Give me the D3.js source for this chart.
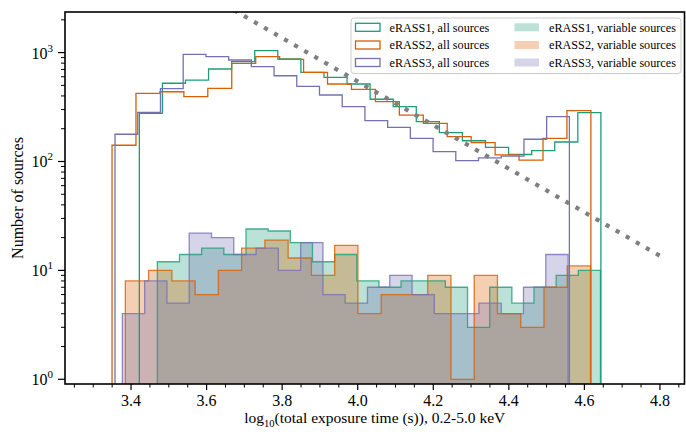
<!DOCTYPE html>
<html><head><meta charset="utf-8">
<script src="https://cdn.jsdelivr.net/npm/d3@7"></script>
<style>
body{margin:0;background:#fff}
svg{display:block}
text{font-family:"Liberation Serif","Times New Roman",serif;fill:#000}
</style>
</head><body>
<svg id="chart" width="686" height="432"></svg>
<script>
// ---------------- DATA ----------------
const seriesNames = ["eRASS1", "eRASS2", "eRASS3"];
const seriesColors = ["#1b9e77", "#d95f02", "#7570b3"];

// all sources: [min, max] of the 20 equal-width bins, and counts
const allRange1 = [3.4220, 4.6437];
const allRange2 = [3.3497, 4.6172];
const allRange3 = [3.3576, 4.5603];
const allCounts1 = [277, 523, 560, 707, 825, 1041, 874, 659, 593, 515, 373, 319, 232, 184, 155, 135, 116, 126, 151, 281];
const allCounts2 = [141, 423, 437, 394, 470, 798, 917, 868, 659, 515, 460, 354, 267, 224, 169, 149, 115, 103, 163, 293];
const allCounts3 = [178, 283, 466, 965, 917, 855, 743, 613, 490, 408, 319, 237, 206, 163, 123, 102, 108, 112, 160, 258];

// variable sources
const varRange1 = [3.4697, 4.6426];
const varRange2 = [3.3849, 4.6162];
const varRange3 = [3.3770, 4.5568];
const varCounts1 = [12, 14, 16, 14, 24, 23, 18, 12, 14, 8, 7, 8, 8, 7, 3, 7, 5, 7, 9, 10];
const varCounts2 = [8, 10, 8, 6, 10, 16, 19, 13, 9, 17, 4, 6, 6, 9, 1, 9, 4, 3, 7, 11];
const varCounts3 = [4, 8, 5, 22, 20, 14, 16, 10, 18, 6, 5, 7, 9, 6, 4, 4, 5, 4, 7, 14];

// dotted reference line (log10 t, N)
const refLineX = [3.3, 4.8];
const refLineY = [13650, 13.6];

const xTicks = [3.4, 3.6, 3.8, 4.0, 4.2, 4.4, 4.6, 4.8];
const yTickExps = [0, 1, 2, 3];
const xLabel = "total exposure time (s)), 0.2-5.0 keV";
const yLabel = "Number of sources";

// ---------------- LAYOUT ----------------
const L = 65, R = 684.5, T = 12, B = 384;
const svg = d3.select("#chart");
const x = d3.scaleLinear().domain([3.2252, 4.865]).range([L, R]);
const y = d3.scaleLog().domain([0.905, 2360]).range([B, T]);

svg.append("defs").append("clipPath").attr("id", "clip")
  .append("rect").attr("x", L).attr("y", T).attr("width", R - L).attr("height", B - T);
const plot = svg.append("g").attr("clip-path", "url(#clip)");

function edges(range, n) {
  const w = (range[1] - range[0]) / n;
  return d3.range(n + 1).map(i => range[0] + i * w);
}
function stepPoints(range, counts) {
  const e = edges(range, counts.length);
  const low = 0.5;
  const pts = [[e[0], low]];
  counts.forEach((c, i) => { pts.push([e[i], c]); pts.push([e[i + 1], c]); });
  pts.push([e[e.length - 1], low]);
  return pts;
}
const line = d3.line().x(d => x(d[0])).y(d => y(d[1]));
const area = d3.area().x(d => x(d[0])).y0(B + 5).y1(d => y(d[1]));

const allData = [[allRange1, allCounts1], [allRange2, allCounts2], [allRange3, allCounts3]];
const varData = [[varRange1, varCounts1], [varRange2, varCounts2], [varRange3, varCounts3]];

// variable filled histograms
varData.forEach((d, i) => {
  const pts = stepPoints(d[0], d[1]);
  plot.append("path").attr("d", area(pts.slice(1, -1)))
    .attr("fill", seriesColors[i]).attr("fill-opacity", 0.3).attr("stroke", "none");
});
varData.forEach((d, i) => {
  plot.append("path").attr("d", line(stepPoints(d[0], d[1])))
    .attr("fill", "none").attr("stroke", seriesColors[i]).attr("stroke-opacity", 0.8)
    .attr("stroke-width", 1.3);
});
// all sources step histograms
allData.forEach((d, i) => {
  plot.append("path").attr("d", line(stepPoints(d[0], d[1])))
    .attr("fill", "none").attr("stroke", seriesColors[i]).attr("stroke-width", 1.3)
    .attr("stroke-linejoin", "miter");
});
// dotted line
plot.append("path").attr("d", line(refLineX.map((v, i) => [v, refLineY[i]])))
  .attr("fill", "none").attr("stroke", "#808080").attr("stroke-width", 4.2)
  .attr("stroke-dasharray", "4.2,7.4");

// ---------------- AXES ----------------
const xMinor = d3.range(3.25, 4.866, 0.05).filter(v => !xTicks.some(t => Math.abs(t - v) < 1e-6));
const gx = svg.append("g");
xTicks.forEach(t => {
  gx.append("line").attr("x1", x(t)).attr("x2", x(t)).attr("y1", B).attr("y2", B + 6)
    .attr("stroke", "#000").attr("stroke-width", 1.2);
  gx.append("text").attr("x", x(t)).attr("y", B + 21.5).attr("text-anchor", "middle")
    .attr("font-size", 16).text(t.toFixed(1));
});
xMinor.forEach(t => {
  gx.append("line").attr("x1", x(t)).attr("x2", x(t)).attr("y1", B).attr("y2", B + 3.5)
    .attr("stroke", "#000").attr("stroke-width", 1);
});
const gy = svg.append("g");
yTickExps.forEach(e => {
  const v = Math.pow(10, e);
  gy.append("line").attr("x1", L - 7).attr("x2", L).attr("y1", y(v)).attr("y2", y(v))
    .attr("stroke", "#000").attr("stroke-width", 1.2);
  const t = gy.append("text").attr("x", L - 12).attr("y", y(v) + 6).attr("text-anchor", "end")
    .attr("font-size", 16);
  t.append("tspan").text("10");
  t.append("tspan").attr("font-size", 11).attr("dy", -7).text(String(e));
});
const yMinor = [];
[0, 1, 2, 3].forEach(e => d3.range(2, 10).forEach(m => {
  const v = m * Math.pow(10, e);
  if (v < 2360) yMinor.push(v);
}));
yMinor.forEach(v => {
  gy.append("line").attr("x1", L - 4).attr("x2", L).attr("y1", y(v)).attr("y2", y(v))
    .attr("stroke", "#000").attr("stroke-width", 1);
});
svg.append("rect").attr("x", L).attr("y", T).attr("width", R - L).attr("height", B - T)
  .attr("fill", "none").attr("stroke", "#000").attr("stroke-width", 1.6);

// axis titles
const xt = svg.append("text").attr("x", (L + R) / 2).attr("y", 423).attr("text-anchor", "middle")
  .attr("font-size", 15.5);
xt.append("tspan").text("log");
xt.append("tspan").attr("font-size", 10.5).attr("dy", 4).text("10");
xt.append("tspan").attr("dy", -4).text("(" + xLabel);
svg.append("text").attr("transform", `translate(23,${(T + B) / 2}) rotate(-90)`)
  .attr("text-anchor", "middle").attr("font-size", 16).text(yLabel);

// ---------------- LEGEND ----------------
const lg = svg.append("g");
lg.append("rect").attr("x", 351).attr("y", 18).attr("width", 330).attr("height", 55.5)
  .attr("rx", 3).attr("fill", "#fff").attr("fill-opacity", 0.8)
  .attr("stroke", "#cccccc").attr("stroke-width", 1);
const rowY = [27.3, 45, 62.5];
seriesNames.forEach((n, i) => {
  lg.append("rect").attr("x", 355.5).attr("y", rowY[i] - 4).attr("width", 24.5).attr("height", 8)
    .attr("fill", "none").attr("stroke", seriesColors[i]).attr("stroke-width", 1.3);
  lg.append("text").attr("x", 389.5).attr("y", rowY[i] + 4.2).attr("font-size", 12.2)
    .text(n + ", all sources");
  lg.append("rect").attr("x", 514.5).attr("y", rowY[i] - 4).attr("width", 24.5).attr("height", 8)
    .attr("fill", seriesColors[i]).attr("fill-opacity", 0.3);
  lg.append("text").attr("x", 549).attr("y", rowY[i] + 4.2).attr("font-size", 12.2)
    .text(n + ", variable sources");
});
</script>
</body></html>
